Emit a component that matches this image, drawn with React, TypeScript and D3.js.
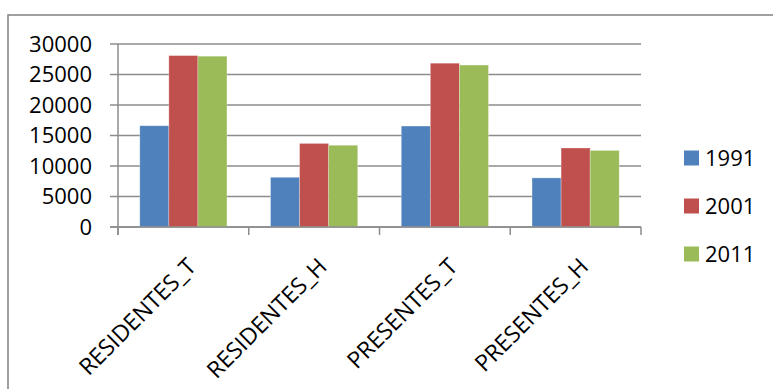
import React from "react";
import * as d3 from "d3";

// Population counts per indicator and census year
const categories = ["RESIDENTES_T", "RESIDENTES_H", "PRESENTES_T", "PRESENTES_H"];
const years = ["1991", "2001", "2011"];
const values1991 = [16600, 8150, 16550, 8050];
const values2001 = [28100, 13700, 26850, 12950];
const values2011 = [28000, 13400, 26550, 12550];
const yTicks = [0, 5000, 10000, 15000, 20000, 25000, 30000];
const colors = ["#4f81bd", "#c0504d", "#9bbb59"];

const W = 773;
const H = 389;
const plot = { left: 118, right: 641, top: 44, bottom: 227 };
const font = "'Open Sans', 'Liberation Sans', sans-serif";
const fs = 22;
const gridColor = "#8c8c8c";

export default function App() {
  const series = [values1991, values2001, values2011];

  const x = d3
    .scaleBand<string>()
    .domain(categories)
    .range([plot.left, plot.right])
    .paddingInner(0)
    .paddingOuter(0);
  const bw = x.bandwidth();
  const xInner = d3
    .scaleBand<string>()
    .domain(years)
    .range([bw / 6, (bw * 5) / 6])
    .padding(0);
  const y = d3.scaleLinear().domain([0, 30000]).range([plot.bottom, plot.top]);

  const boundaries = categories.map((c) => x(c) as number).concat([plot.right]);

  return (
    <svg
      width={W}
      height={H}
      style={{ position: "absolute", left: 0, top: 0, background: "#fff" }}
    >
      <rect x={8} y={15} width={900} height={600} fill="#fff" stroke="#898989" strokeWidth={1.6} />

      {/* gridlines and value axis labels */}
      {yTicks.map((t) => (
        <g key={t}>
          <line
            x1={plot.left - 8}
            x2={plot.right}
            y1={y(t)}
            y2={y(t)}
            stroke={gridColor}
            strokeWidth={1.5}
          />
          <text
            x={92}
            y={y(t)}
            dy="0.36em"
            textAnchor="end"
            fontFamily={font}
            fontSize={fs}
            fill="#000"
          >
            {t}
          </text>
        </g>
      ))}

      {/* bars */}
      {categories.map((c, i) => (
        <g key={c} transform={`translate(${x(c)},0)`}>
          {series.map((s, j) => (
            <rect
              key={years[j]}
              x={xInner(years[j])}
              y={y(s[i])}
              width={xInner.bandwidth()}
              height={y(0) - y(s[i])}
              fill={colors[j]}
              stroke="#ffffff"
              strokeOpacity={0.35}
              strokeWidth={0.8}
            />
          ))}
        </g>
      ))}

      {/* axes */}
      <line x1={plot.left} x2={plot.left} y1={plot.top} y2={plot.bottom + 8} stroke={gridColor} strokeWidth={1.5} />
      <line x1={plot.left - 8} x2={plot.right} y1={plot.bottom} y2={plot.bottom} stroke={gridColor} strokeWidth={1.5} />
      {boundaries.map((bx, i) => (
        <line key={i} x1={bx} x2={bx} y1={plot.bottom} y2={plot.bottom + 8} stroke={gridColor} strokeWidth={1.5} />
      ))}

      {/* category labels */}
      {categories.map((c) => {
        const cx = (x(c) as number) + bw / 2 + 14;
        const cy = 268;
        return (
          <text
            key={c}
            x={cx}
            y={cy}
            textAnchor="end"
            transform={`rotate(-45 ${cx} ${cy})`}
            fontFamily={font}
            fontSize={23}
            fill="#000"
          >
            {c}
          </text>
        );
      })}

      {/* legend */}
      {years.map((yr, j) => {
        const ly = 158 + j * 48;
        return (
          <g key={yr}>
            <rect x={684} y={ly - 7.5} width={15} height={15} fill={colors[j]} />
            <text x={705} y={ly} dy="0.36em" fontFamily={font} fontSize={fs} fill="#000">
              {yr}
            </text>
          </g>
        );
      })}
    </svg>
  );
}
